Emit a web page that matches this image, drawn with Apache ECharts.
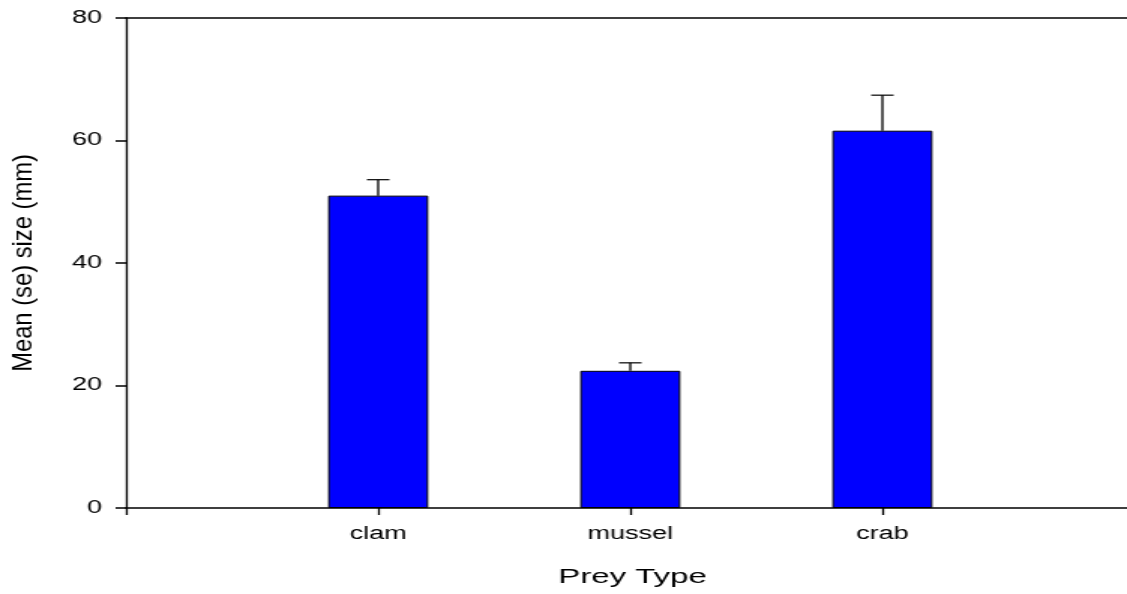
<!DOCTYPE html>
<html>
<head>
<meta charset="utf-8">
<script src="https://cdn.jsdelivr.net/npm/echarts@6/dist/echarts.min.js"></script>
<style>
  html, body { margin: 0; padding: 0; background: #fff; overflow: hidden; }
  /* the figure is laid out narrow and widened to the page, like the original export */
  #chart { width: 751px; height: 594px; transform: scaleX(1.50067); transform-origin: 0 0; }
</style>
</head>
<body>
<div id="chart"></div>
<script>
// prey categories and their mean size with standard error (mm)
const categories = ['clam', 'mussel', 'crab'];
const meanSize = [51.0, 22.4, 61.6];
const seSize = [2.6, 1.3, 5.8];
const yTicks = [0, 20, 40, 60, 80];

const FONT = '"Liberation Sans", Arial, Helvetica, sans-serif';
const positions = categories.map((c, i) => i + 1);
const barData = positions.map((p, i) => [p, meanSize[i]]);
const errData = positions.map((p, i) => [p, meanSize[i], meanSize[i] + seSize[i]]);

const chart = echarts.init(document.getElementById('chart'));
const plotLeft = 84;
const plotW = 751 - plotLeft;

chart.setOption({
  animation: false,
  backgroundColor: '#fff',
  grid: { left: plotLeft, right: 0, top: 18, bottom: 86, containLabel: false },
  xAxis: [{
    type: 'value',
    min: 0,
    max: plotW / 168,
    interval: 1,
    splitLine: { show: false },
    axisLine: { show: true, onZero: false, lineStyle: { color: '#000', width: 1.5 } },
    axisTick: { show: true, length: 7, customValues: [0].concat(positions), lineStyle: { color: '#000', width: 1.3 } },
    axisLabel: {
      customValues: positions,
      formatter: v => categories[Math.round(v) - 1] || '',
      color: '#000', fontSize: 18, fontFamily: FONT, margin: 17
    }
  }, {
    type: 'value',
    position: 'top',
    min: 0,
    max: plotW / 168,
    splitLine: { show: false },
    axisLine: { show: true, onZero: false, lineStyle: { color: '#000', width: 1.5 } },
    axisTick: { show: false },
    axisLabel: { show: false }
  }],
  yAxis: {
    type: 'value',
    min: yTicks[0],
    max: yTicks[yTicks.length - 1],
    interval: 20,
    splitLine: { show: false },
    axisLine: { show: true, onZero: false, lineStyle: { color: '#000', width: 1.3 } },
    axisTick: { show: true, length: 7, lineStyle: { color: '#000', width: 1.5 } },
    axisLabel: { color: '#000', fontSize: 18, fontFamily: FONT, margin: 16 }
  },
  graphic: [{
    type: 'text',
    x: 15.5, y: 263,
    rotation: Math.PI / 2,
    scaleX: 1.25,
    style: { text: 'Mean (se) size (mm)', font: '19px ' + FONT, fill: '#000', align: 'center', verticalAlign: 'middle' }
  }, {
    type: 'text',
    x: 421.5, y: 577.5,
    scaleX: 1.1,
    style: { text: 'Prey Type', font: '20px ' + FONT, fill: '#000', align: 'center', verticalAlign: 'middle' }
  }],
  series: [{
    type: 'bar',
    data: barData,
    barWidth: 66.7,
    itemStyle: { color: '#0000ff', borderColor: '#000', borderWidth: 1 },
    z: 2
  }, {
    type: 'custom',
    data: errData,
    z: 3,
    renderItem: function (params, api) {
      const x = api.value(0);
      const base = api.coord([x, api.value(1)]);
      const top = api.coord([x, api.value(2)]);
      const half = 7.5;
      return {
        type: 'group',
        children: [{
          type: 'line',
          shape: { x1: base[0], y1: base[1], x2: top[0], y2: top[1] },
          style: { stroke: '#000', lineWidth: 1.3 }
        }, {
          type: 'line',
          shape: { x1: top[0] - half, y1: top[1], x2: top[0] + half, y2: top[1] },
          style: { stroke: '#000', lineWidth: 1.2 }
        }]
      };
    }
  }]
});
</script>
</body>
</html>
